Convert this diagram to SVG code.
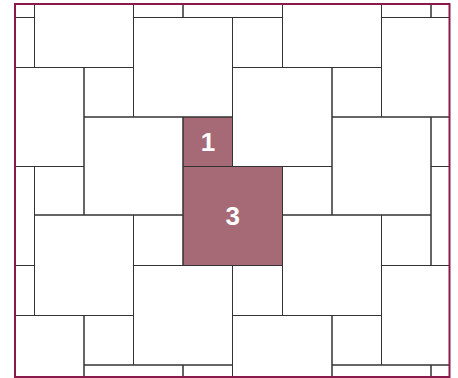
<svg xmlns="http://www.w3.org/2000/svg" width="458" height="378" viewBox="0 0 458 378">
<style>
.grout{fill:none;stroke:#333;stroke-width:1}
.hl{fill:#a66a77;stroke:none}
.lbl{font-family:"Liberation Sans",Arial,sans-serif;font-weight:bold;font-size:26px;fill:#fff;text-anchor:middle}
.frame{fill:none;stroke:#8a1a4b;stroke-width:2}
</style>
<defs>
<clipPath id="clip"><rect x="15" y="4" width="434.5" height="373"/></clipPath>
</defs>
<rect x="0" y="0" width="458" height="378" fill="#fff"/>
<g clip-path="url(#clip)">
<g id="tile-1">
<rect class="hl" x="183" y="117" width="49.5" height="49.5"/>
<text class="lbl" x="208" y="151">1</text>
</g>
<g id="tile-3">
<rect class="hl" x="183" y="166.5" width="99.5" height="99"/>
<text class="lbl" x="232.7" y="224.8">3</text>
</g>
<g id="tiling">
<path class="grout" d="
M-64.5,-81.5H34.5V17.5H-64.5Z
M183,-81.5H282.5V17.5H183Z
M431,-81.5H530V17.5H431Z
M34.5,-32H133.5V67.5H34.5Z
M282.5,-32H381.5V67.5H282.5Z
M133.5,17.5H232.5V117H133.5Z
M381.5,17.5H480.5V117H381.5Z
M-15,67.5H84V166.5H-15Z
M232.5,67.5H332V166.5H232.5Z
M84,117H183V215H84Z
M332,117H431V215H332Z
M-64.5,166.5H34.5V265.5H-64.5Z
M183,166.5H282.5V265.5H183Z
M431,166.5H530V265.5H431Z
M34.5,215H133.5V315.5H34.5Z
M282.5,215H381.5V315.5H282.5Z
M133.5,265.5H232.5V365H133.5Z
M381.5,265.5H480.5V365H381.5Z
M-15,315.5H84V414.5H-15Z
M232.5,315.5H332V414.5H232.5Z
M84,365H183V464H84Z
M332,365H431V464H332Z
M133.5,-32H183V17.5H133.5Z
M381.5,-32H431V17.5H381.5Z
M-15,17.5H34.5V67.5H-15Z
M232.5,17.5H282.5V67.5H232.5Z
M84,67.5H133.5V117H84Z
M332,67.5H381.5V117H332Z
M183,117H232.5V166.5H183Z
M431,117H480.5V166.5H431Z
M34.5,166.5H84V215H34.5Z
M282.5,166.5H332V215H282.5Z
M133.5,215H183V265.5H133.5Z
M381.5,215H431V265.5H381.5Z
M-15,265.5H34.5V315.5H-15Z
M232.5,265.5H282.5V315.5H232.5Z
M84,315.5H133.5V365H84Z
M332,315.5H381.5V365H332Z
M183,365H232.5V414.5H183Z
M431,365H480.5V414.5H431Z"/>
</g>
</g>
<rect class="frame" x="15" y="4" width="434.5" height="373"/>
</svg>
